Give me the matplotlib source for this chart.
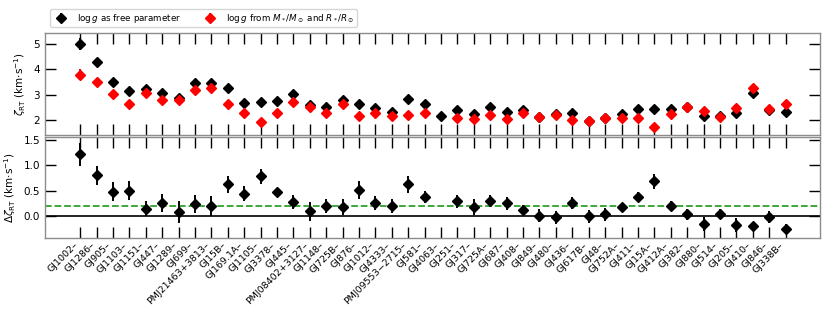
#!/usr/bin/env python3
"""Macroturbulence per star: log g free vs log g from M/R, and the difference."""

import matplotlib
matplotlib.use("Agg")
import matplotlib.pyplot as plt
import numpy as np

stars = [
    "GJ1002", "GJ1286", "GJ905", "GJ1103", "GJ1151", "GJ447", "GJ1289", "GJ699",
    "PMJ21463+3813", "GJ15B", "GJ169.1A", "GJ1105", "GJ3378", "GJ445",
    "PMJ08402+3127", "GJ1148", "GJ725B", "GJ876", "GJ1012", "GJ4333",
    "PMJ09553\u22122715", "GJ581", "GJ4063", "GJ251", "GJ317", "GJ725A", "GJ687",
    "GJ408", "GJ849", "GJ480", "GJ436", "GJ617B", "GJ48", "GJ752A", "GJ411",
    "GJ15A", "GJ412A", "GJ382", "GJ880", "GJ514", "GJ205", "GJ410", "GJ846",
    "GJ338B",
]

# zeta_RT with log g as free parameter
zeta_free = [
    5.00, 4.28, 3.50, 3.17, 3.24, 3.07, 2.89, 3.45, 3.47, 3.27, 2.69, 2.73,
    2.78, 3.04, 2.60, 2.51, 2.82, 2.65, 2.48, 2.35, 2.84, 2.65, 2.16, 2.41,
    2.24, 2.52, 2.33, 2.41, 2.13, 2.24, 2.29, 1.98, 2.08, 2.25, 2.44, 2.44,
    2.44, 2.54, 2.17, 2.16, 2.28, 3.07, 2.42, 2.34,
]
zeta_free_err = [
    0.25, 0.17, 0.13, 0.12, 0.10, 0.11, 0.14, 0.12, 0.12, 0.11, 0.09, 0.10,
    0.08, 0.09, 0.09, 0.08, 0.09, 0.08, 0.08, 0.08, 0.10, 0.08, 0.08, 0.08,
    0.08, 0.07, 0.08, 0.07, 0.08, 0.08, 0.07, 0.08, 0.08, 0.07, 0.07, 0.07,
    0.07, 0.08, 0.08, 0.07, 0.07, 0.08, 0.08, 0.07,
]

# zeta_RT with log g from M*/Msun and R*/Rsun
zeta_mr = [
    3.80, 3.49, 3.02, 2.65, 3.08, 2.81, 2.82, 3.19, 3.27, 2.64, 2.28, 1.95,
    2.30, 2.74, 2.51, 2.30, 2.64, 2.18, 2.28, 2.17, 2.21, 2.28, np.nan, 2.11,
    2.04, 2.22, 2.07, 2.29, 2.13, 2.22, 2.01, 1.98, 2.08, 2.08, 2.08, 1.75,
    2.24, 2.54, 2.37, 2.13, 2.48, 3.29, 2.44, 2.64,
]
zeta_mr_err = [
    0.22, 0.15, 0.14, 0.15, 0.12, 0.11, 0.12, 0.10, 0.12, 0.16, 0.10, 0.15,
    0.09, 0.10, 0.09, 0.09, 0.10, 0.09, 0.08, 0.08, 0.08, 0.08, np.nan, 0.08,
    0.08, 0.08, 0.09, 0.08, 0.08, 0.08, 0.08, 0.08, 0.08, 0.08, 0.09, 0.10,
    0.08, 0.09, 0.09, 0.08, 0.09, 0.09, 0.09, 0.09,
]

# difference zeta_free - zeta_mr
delta = [
    1.22, 0.80, 0.48, 0.50, 0.14, 0.26, 0.07, 0.24, 0.20, 0.62, 0.44, 0.78,
    0.47, 0.28, 0.09, 0.19, 0.18, 0.51, 0.26, 0.19, 0.62, 0.38, np.nan, 0.29,
    0.18, 0.30, 0.25, 0.12, 0.00, -0.03, 0.25, -0.01, 0.03, 0.17, 0.37, 0.68,
    0.19, 0.03, -0.16, 0.03, -0.18, -0.21, -0.03, -0.26,
]
delta_err = [
    0.23, 0.19, 0.18, 0.18, 0.15, 0.18, 0.22, 0.18, 0.20, 0.16, 0.15, 0.15,
    0.06, 0.14, 0.19, 0.14, 0.16, 0.18, 0.14, 0.14, 0.16, 0.12, np.nan, 0.13,
    0.16, 0.12, 0.13, 0.09, 0.13, 0.13, 0.12, 0.13, 0.13, 0.09, 0.10, 0.14,
    0.10, 0.11, 0.14, 0.10, 0.14, 0.09, 0.12, 0.10,
]

mean_delta = 0.19

SPINE = "0.55"


def style_axes(ax):
    for side in ax.spines.values():
        side.set_color(SPINE)
        side.set_linewidth(1.0)
    ax.tick_params(direction="in", length=8, width=1.0, top=True, right=True,
                   labelsize=7.5, color="k")
    ax.tick_params(axis="x", pad=2)
    ax.set_xlim(-2.15, 45.1)
    ax.set_xticks(np.arange(len(stars)))


def main() -> None:
    fig = plt.figure(figsize=(8.3, 3.11), dpi=100)
    ax_top = fig.add_axes([0.054, 0.566, 0.934, 0.328])
    ax_bot = fig.add_axes([0.054, 0.235, 0.934, 0.325])

    x = np.arange(len(stars))
    ebkw = dict(fmt="D", markersize=5, elinewidth=1.4, capsize=0)

    h_free = ax_top.errorbar(x, zeta_free, yerr=zeta_free_err, color="k",
                             label=r"$\log g$ as free parameter", **ebkw)
    h_mr = ax_top.errorbar(x, zeta_mr, yerr=zeta_mr_err, color="red",
                           label=r"$\log g$ from $M_*/M_\odot$ and $R_*/R_\odot$",
                           **ebkw)
    style_axes(ax_top)
    ax_top.set_ylim(1.43, 5.43)
    ax_top.set_yticks([2, 3, 4, 5])
    ax_top.set_xticklabels([])
    ax_top.set_ylabel(r"$\zeta_{\rm RT}$ (km$\cdot$s$^{-1}$)", fontsize=7.5)

    ax_bot.axhline(0.0, color="k", lw=1.2, zorder=1)
    ax_bot.axhline(mean_delta, color="tab:green", lw=1.3, ls="--", zorder=1)
    ax_bot.errorbar(x, delta, yerr=delta_err, color="k", **ebkw)
    style_axes(ax_bot)
    ax_bot.set_ylim(-0.44, 1.565)
    ax_bot.set_yticks([0.0, 0.5, 1.0, 1.5])
    ax_bot.set_yticklabels(["0.0", "0.5", "1.0", "1.5"])
    ax_bot.set_xticklabels([s + "\u2013" for s in stars], rotation=45,
                           ha="right", fontsize=6.8)
    ax_bot.set_ylabel(r"$\Delta\zeta_{\rm RT}$ (km$\cdot$s$^{-1}$)", fontsize=7.5)

    fig.legend(handles=[h_free, h_mr], loc="lower left",
               bbox_to_anchor=(0.058, 0.908), ncol=2, fontsize=6.3,
               handletextpad=0.9, columnspacing=2.2, borderpad=0.25,
               borderaxespad=0.2)

    fig.savefig("out.png", dpi=100)


if __name__ == "__main__":
    main()
